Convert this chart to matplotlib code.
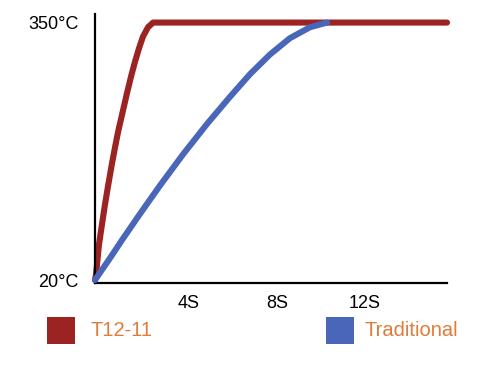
import matplotlib
matplotlib.use('Agg')
import matplotlib.pyplot as plt
import matplotlib.transforms as mtransforms
from matplotlib.patches import Rectangle

plt.rcParams['font.family'] = ['Liberation Sans', 'DejaVu Sans']

# heating curves (time in s, temperature in °C)
t12_time = [0, 0.05, 0.18, 0.32, 0.45, 0.59, 0.77, 0.91, 1.05, 1.27, 1.45,
            1.64, 1.82, 2.00, 2.18, 2.41, 2.64, 16.0]
t12_temp = [20, 28, 65, 92, 116, 140, 169, 190, 210, 237, 259,
            281, 300, 317, 332, 344, 350, 350]
trad_time = [0, 0.68, 1.27, 2.05, 2.95, 4.0, 5.09, 6.14, 7.05, 7.95, 8.86,
             9.77, 10.55]
trad_temp = [20, 48, 73, 105, 141, 181, 220, 255, 284, 309, 330,
             344, 350]

series_names = ['T12-11', 'Traditional']
series_colors = ['#9B2423', '#4A66B8']
text_color = '#E07B39'

x_ticks = [4, 8, 12]
x_labels = ['4S', '8S', '12S']
y_ticks = [20, 350]
y_labels = ['20°C', '350°C']

fig = plt.figure(figsize=(4.94, 3.69), dpi=100)
ax = fig.add_axes([0.1923, 0.2331, 0.7126, 0.729])

ax.plot(t12_time, t12_temp, color=series_colors[0], lw=4.4,
        solid_capstyle='round', solid_joinstyle='round', clip_on=False, zorder=2)
ax.plot(trad_time, trad_temp, color=series_colors[1], lw=4.4,
        solid_capstyle='round', solid_joinstyle='round', clip_on=False, zorder=3)

ax.set_xlim(0, 16.0)
ax.set_ylim(16.2, 361)

for side in ['top', 'right']:
    ax.spines[side].set_visible(False)
for side in ['left', 'bottom']:
    ax.spines[side].set_linewidth(1.6)
    ax.spines[side].set_color('black')

ax.set_xticks(x_ticks)
ax.set_xticklabels(x_labels, fontsize=13)
ax.set_yticks(y_ticks)
ax.set_yticklabels(y_labels, fontsize=13)
ax.tick_params(axis='x', length=0, pad=9)
ax.tick_params(axis='y', length=0, pad=12)

# the x labels sit a little right of their tick positions
shift = mtransforms.ScaledTranslation(0.06, 0, fig.dpi_scale_trans)
for lab in ax.get_xticklabels():
    lab.set_transform(lab.get_transform() + shift)

# legend squares at the bottom
legend_x = [0.095, 0.660]
text_gap = [0.0885, 0.077]
for name, col, lx, gap in zip(series_names, series_colors, legend_x, text_gap):
    fig.add_artist(Rectangle((lx, 0.068), 0.057, 0.073, transform=fig.transFigure,
                             facecolor=col, edgecolor='none'))
    fig.text(lx + gap, 0.105, name, color=text_color, fontsize=14.5,
             va='center', ha='left')

fig.savefig('out.png', dpi=100)
